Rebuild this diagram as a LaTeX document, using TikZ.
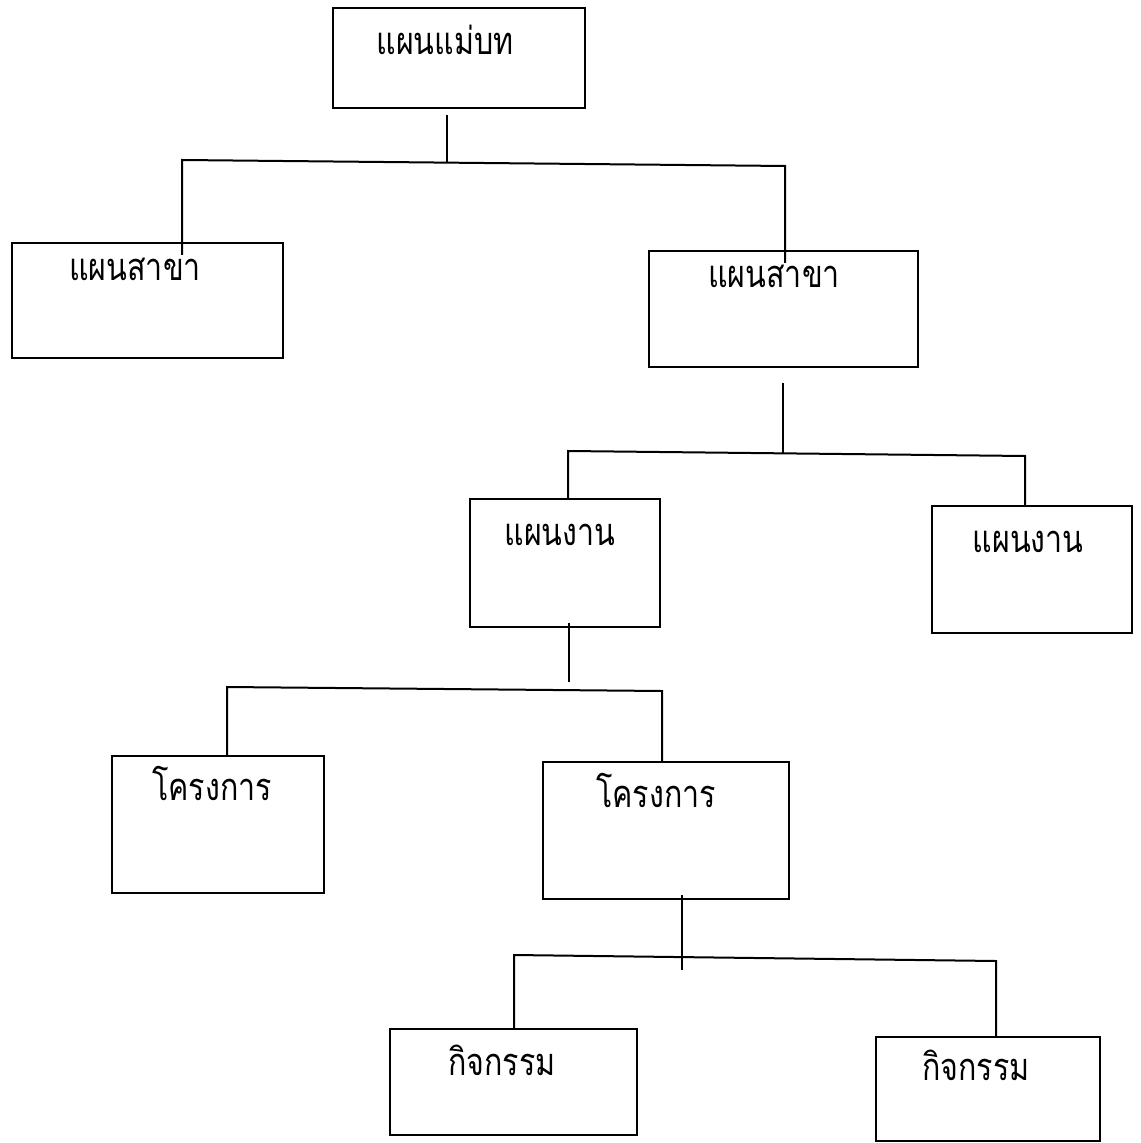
\documentclass[tikz,border=0pt]{standalone}
\usepackage{fontspec}
\usepackage{graphicx}
\newfontfamily\thaifont[Script=Thai]{Loma}
\usetikzlibrary{fit}
\newcommand{\thlbl}[1]{\scalebox{0.8}[1]{#1}}
\begin{document}
\begin{tikzpicture}[x=0.5pt,y=-0.5pt,
  box/.style={draw=black,line width=1pt,inner sep=0pt,fit={#1}},
  lbl/.style={anchor=base,inner sep=0pt,font=\thaifont\fontsize{19pt}{22pt}\selectfont},
  conn/.style={draw=black,line width=1pt}]
\useasboundingbox[fill=white] (0,0) rectangle (1140,1143);
% boxes
\node[box={(333,8) (585,108)}] (A) {};
\node[box={(12,243) (283,358)}] (B) {};
\node[box={(649,251) (918,367)}] (C) {};
\node[box={(470,499) (660,627)}] (D) {};
\node[box={(932,506) (1132,633)}] (E) {};
\node[box={(112,756) (324,893)}] (F) {};
\node[box={(543,762) (789,899)}] (G) {};
\node[box={(390,1029) (637,1135)}] (H) {};
\node[box={(876,1037) (1100,1141)}] (I) {};
% labels
\node[lbl] (tA) at (445,55) {\thlbl{แผนแม่บท}};
\node[lbl] (tB) at (135,281) {\thlbl{แผนสาขา}};
\node[lbl] (tC) at (774,288) {\thlbl{แผนสาขา}};
\node[lbl] (tD) at (560,545) {\thlbl{แผนงาน}};
\node[lbl] (tE) at (1028,552) {\thlbl{แผนงาน}};
\node[lbl] (tF) at (212,800) {\thlbl{โครงการ}};
\node[lbl] (tG) at (656,807) {\thlbl{โครงการ}};
\node[lbl] (tH) at (502,1075) {\thlbl{กิจกรรม}};
\node[lbl] (tI) at (976,1080) {\thlbl{กิจกรรม}};
% junction coordinates
\coordinate (a0) at (447,115);
\coordinate (a1) at (447,163);
\coordinate (aL) at (182,160);
\coordinate (aR) at (785,166);
\coordinate (bE) at (182,255);
\coordinate (cE) at (785,263);
\coordinate (c0) at (783,383);
\coordinate (c1) at (783,453);
\coordinate (cL) at (568,451);
\coordinate (cR) at (1025,456);
\coordinate (d0) at (569,623);
\coordinate (d1) at (569,682);
\coordinate (dL) at (227,687);
\coordinate (dR) at (662,691);
\coordinate (g0) at (682,895);
\coordinate (g1) at (682,970);
\coordinate (gL) at (514,955);
\coordinate (gR) at (996,961);
% connectors
\draw[conn] (a0) -- (a1);
\draw[conn] (bE) -- (aL) -- (aR) -- (cE);
\draw[conn] (c0) -- (c1);
\draw[conn] (D.north -| cL) -- (cL) -- (cR) -- (E.north -| cR);
\draw[conn] (d0) -- (d1);
\draw[conn] (F.north -| dL) -- (dL) -- (dR) -- (G.north -| dR);
\draw[conn] (g0) -- (g1);
\draw[conn] (H.north -| gL) -- (gL) -- (gR) -- (I.north -| gR);
\end{tikzpicture}
\end{document}
